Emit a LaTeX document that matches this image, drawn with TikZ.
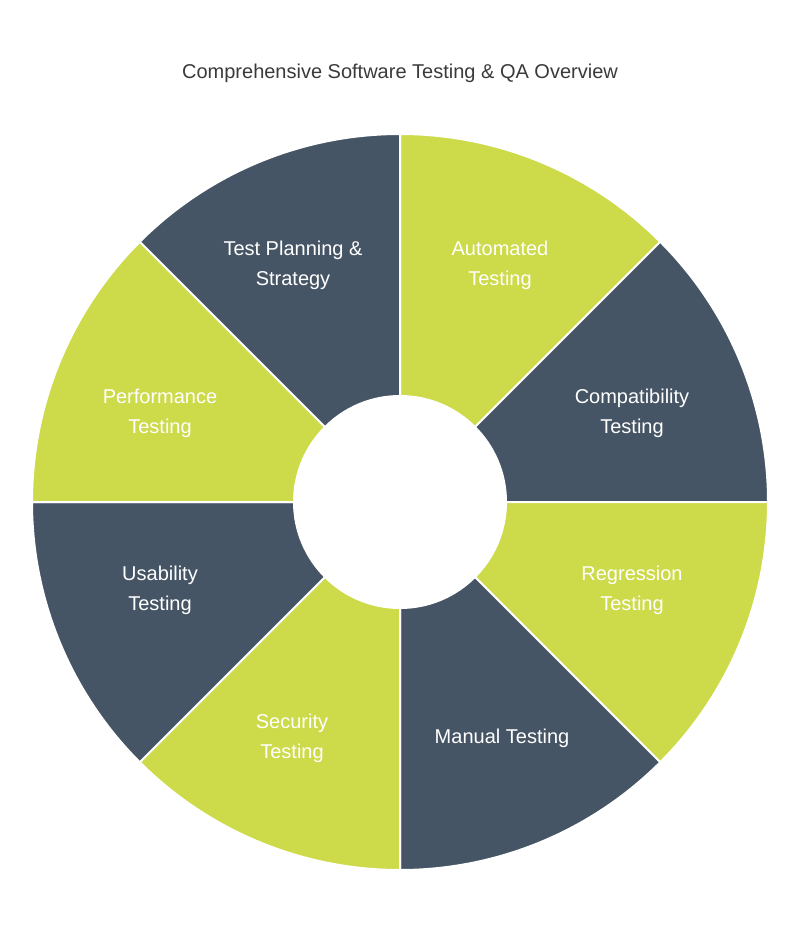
\documentclass[tikz,border=0pt]{standalone}
\usepackage{fontspec}
\setmainfont{Liberation Sans}
\definecolor{slate}{HTML}{465565}
\definecolor{lime}{HTML}{CDDA4A}
\definecolor{titlegray}{HTML}{3A3A3A}
\tikzset{
  seglabel/.style={text=white, align=center, font=\fontsize{20}{30}\selectfont},
  segment/.style={draw=white, line width=2pt},
}
\begin{document}
\begin{tikzpicture}[x=1pt,y=-1pt]
        \useasboundingbox (0,0) rectangle (800,933);
        % title
        \node[text=titlegray, font=\fontsize{20}{24}\selectfont] (title) at (400,73) {Comprehensive Software Testing \& QA Overview};

        % wheel
        \coordinate (c) at (400,502);
        \foreach \a/\col in {90/lime,45/slate,0/lime,-45/slate,-90/lime,-135/slate,180/lime,135/slate}{
          \fill[\col, segment] (c) -- ++(\a:368 and -368) arc[start angle=\a, end angle=\a-45, x radius=368, y radius=-368] -- cycle;
        }
        \fill[white] (c) circle[radius=107];

        % labels
        \node[seglabel] (auto) at (500,265) {Automated\\Testing};
        \node[seglabel] (compat) at (632,413) {Compatibility\\Testing};
        \node[seglabel] (regr) at (632,590) {Regression\\Testing};
        \node[seglabel] (manual) at (502,738) {Manual Testing};
        \node[seglabel] (secur) at (292,738) {Security\\Testing};
        \node[seglabel] (usab) at (160,590) {Usability\\Testing};
        \node[seglabel] (perf) at (160,413) {Performance\\Testing};
        \node[seglabel] (plan) at (293,265) {Test Planning \&\\Strategy};
\end{tikzpicture}
\end{document}
